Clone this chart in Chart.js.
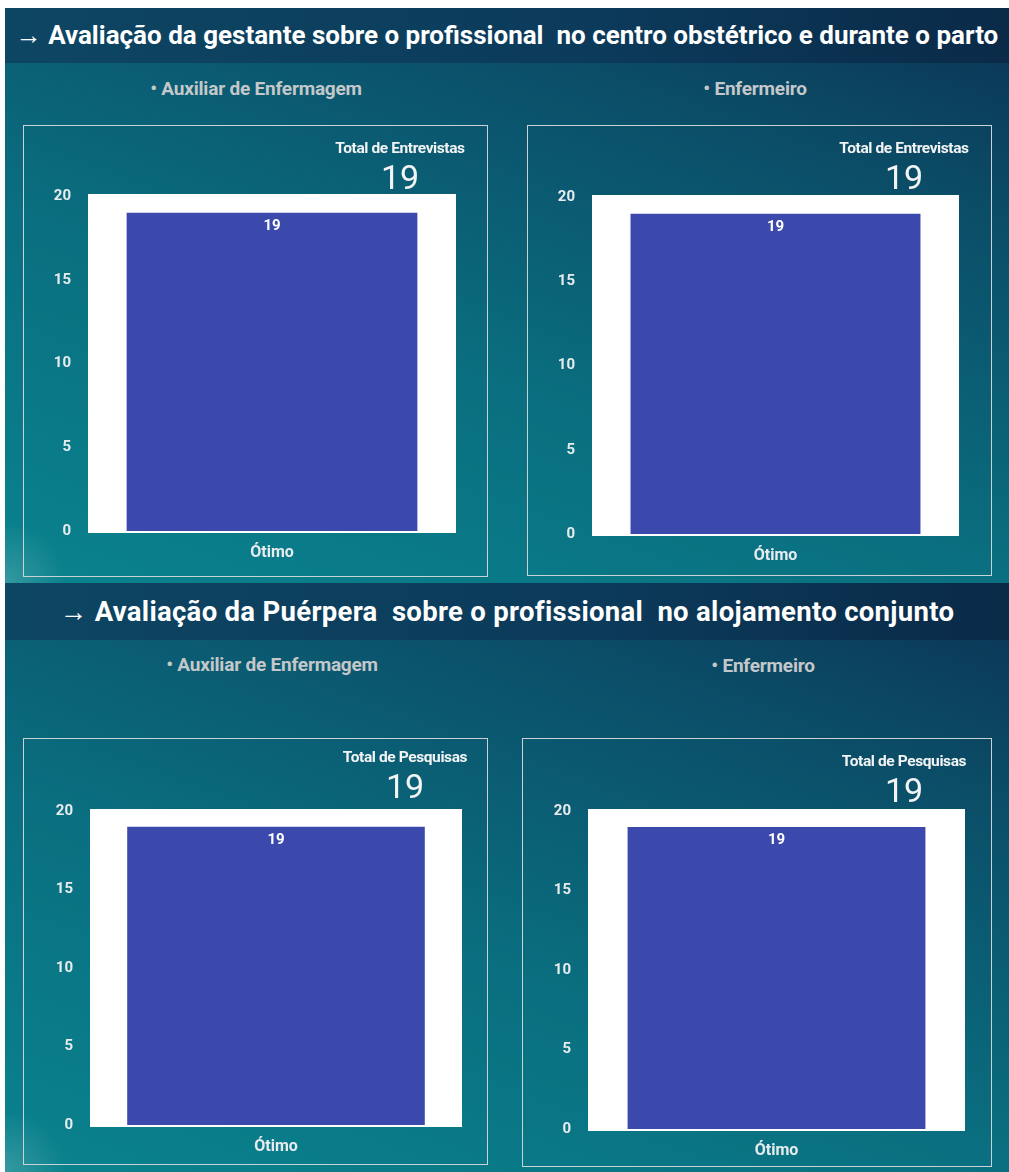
<!DOCTYPE html>
<html lang="pt">
<head>
  <meta charset="UTF-8" />
  <title>Avaliação do profissional</title>
  <script src="https://cdn.jsdelivr.net/npm/chart.js"></script>
  <style>
    body { margin: 0; background: #fff; font-family: Roboto, 'Noto Sans', sans-serif; }
    .page { position: relative; width: 1009px; height: 1172px; overflow: hidden; }
    .section { position: absolute; left: 5px; width: 1004px;
      background:
        radial-gradient(circle at 0% 100%, rgba(90,170,175,0.55) 0, rgba(90,170,175,0) 60px),
        linear-gradient(20deg, #0a838e 0%, #0a6f80 40%, #0b4f69 75%, #0b3454 100%); }
    .bar-title { position: absolute; left: 0; width: 100%; color: #fff; font-weight: 700;
      text-align: center; white-space: pre;
      background: linear-gradient(90deg, #0d4663 0%, #0c3a5a 60%, #0a2a48 100%); }
    .sub { position: absolute; color: #c4c8ca; font-weight: 700; font-size: 19px;
      transform: translateX(-50%); white-space: pre; letter-spacing: -0.2px; }
    .panel { position: absolute; border: 1.5px solid #c9d3d6; box-sizing: border-box; }
    .panel canvas { position: absolute; left: 0; top: 0; }
    .total { position: absolute; text-align: center; color: #f2f4f5; }
    .total .lbl { font-size: 15.5px; font-weight: 700; letter-spacing: -0.4px; line-height: 16px; }
    .total .num { font-size: 34px; line-height: 34px; margin-top: 4px; }
  </style>
</head>
<body>
<div class="page" id="page">
  <div class="section" style="top:8px;height:575px;">
    <div class="bar-title" style="top:0;height:55px;line-height:54px;font-size:26px;">→ Avaliação da gestante sobre o profissional  no centro obstétrico e durante o parto</div>
  </div>
  <div class="section" style="top:583px;height:589px;">
    <div class="bar-title" style="top:0;height:57px;line-height:58px;font-size:27.5px;letter-spacing:0.3px;">→ Avaliação da Puérpera  sobre o profissional  no alojamento conjunto</div>
  </div>
  <div class="sub" style="left:256px;top:77px;">• Auxiliar de Enfermagem</div>
  <div class="sub" style="left:755px;top:77px;">• Enfermeiro</div>
  <div class="sub" style="left:272px;top:653px;">• Auxiliar de Enfermagem</div>
  <div class="sub" style="left:763px;top:654px;">• Enfermeiro</div>
</div>

<script>
  // data
  const categories = ['Ótimo'];
  const auxGestante = [19];
  const enfGestante = [19];
  const auxPuerpera = [19];
  const enfPuerpera = [19];
  const yTicks = [0, 5, 10, 15, 20];

  // panel box + plot area (page coords)
  const panels = [
    { values: auxGestante, total: 'Total de Entrevistas', box: [23, 125, 488, 577], plot: [87, 195, 455, 530], bar: 0.79, totTop: 140, totX: 400 },
    { values: enfGestante, total: 'Total de Entrevistas', box: [527, 125, 992, 576], plot: [591, 196, 958, 533], bar: 0.79, totTop: 140, totX: 904 },
    { values: auxPuerpera, total: 'Total de Pesquisas', box: [23, 738, 488, 1165], plot: [89, 810, 461, 1124], bar: 0.80, totTop: 749, totX: 405 },
    { values: enfPuerpera, total: 'Total de Pesquisas', box: [522, 738, 992, 1167], plot: [587, 810, 964, 1128], bar: 0.79, totTop: 753, totX: 904 }
  ];

  const whiteArea = {
    id: 'whiteArea',
    beforeDatasetsDraw(chart) {
      const a = chart.chartArea, ctx = chart.ctx;
      ctx.save();
      ctx.fillStyle = '#ffffff';
      ctx.fillRect(a.left, a.top - 2, a.right - a.left, a.bottom - a.top + 4);
      ctx.restore();
    }
  };

  const barValue = {
    id: 'barValue',
    afterDatasetsDraw(chart) {
      const ctx = chart.ctx;
      ctx.save();
      ctx.fillStyle = '#ffffff';
      ctx.font = 'bold 15px Roboto';
      ctx.textAlign = 'center';
      ctx.textBaseline = 'top';
      chart.getDatasetMeta(0).data.forEach((el, i) => {
        ctx.fillText(chart.data.datasets[0].data[i], el.x, el.y + 6);
      });
      ctx.restore();
    }
  };

  const page = document.getElementById('page');

  panels.forEach(p => {
    const [bx1, by1, bx2, by2] = p.box;
    const [px1, py1, px2, py2] = p.plot;
    const div = document.createElement('div');
    div.className = 'panel';
    div.style.left = bx1 + 'px';
    div.style.top = by1 + 'px';
    div.style.width = (bx2 - bx1) + 'px';
    div.style.height = (by2 - by1) + 'px';
    page.appendChild(div);

    const w = bx2 - bx1, h = by2 - by1;
    const canvas = document.createElement('canvas');
    canvas.width = w; canvas.height = h;
    canvas.style.width = w + 'px'; canvas.style.height = h + 'px';
    div.appendChild(canvas);

    const tot = document.createElement('div');
    tot.className = 'total';
    tot.style.left = (p.totX - 90) + 'px';
    tot.style.width = '180px';
    tot.style.top = p.totTop + 'px';
    tot.innerHTML = '<div class="lbl">' + p.total + '</div><div class="num">' +
      p.values.reduce((s, v) => s + v, 0) + '</div>';
    page.appendChild(tot);

    const left = px1 - bx1, top = py1 - by1;
    const right = bx2 - px2, bottom = by2 - py2;
    const tickFont = { family: 'Roboto', size: 15, weight: 'bold' };

    new Chart(canvas, {
      type: 'bar',
      data: {
        labels: categories,
        datasets: [{
          data: p.values,
          backgroundColor: '#3c49ac',
          borderWidth: 0,
          barPercentage: 1,
          categoryPercentage: p.bar
        }]
      },
      options: {
        responsive: false,
        animation: false,
        layout: { padding: { top: top, right: right, left: 0, bottom: 0 } },
        plugins: { legend: { display: false }, tooltip: { enabled: false } },
        scales: {
          x: {
            grid: { display: false },
            border: { display: false },
            ticks: { color: '#e8ecee', font: { family: 'Roboto', size: 16, weight: 'bold' }, padding: 4 },
            afterFit(s) { s.height = bottom; }
          },
          y: {
            min: 0, max: 20,
            afterBuildTicks(s) { s.ticks = yTicks.map(v => ({ value: v })); },
            grid: { display: false },
            border: { display: false },
            ticks: { color: '#e8ecee', font: tickFont, padding: 9 },
            afterFit(s) { s.width = left; }
          }
        }
      },
      plugins: [whiteArea, barValue]
    });
  });
</script>
</body>
</html>
